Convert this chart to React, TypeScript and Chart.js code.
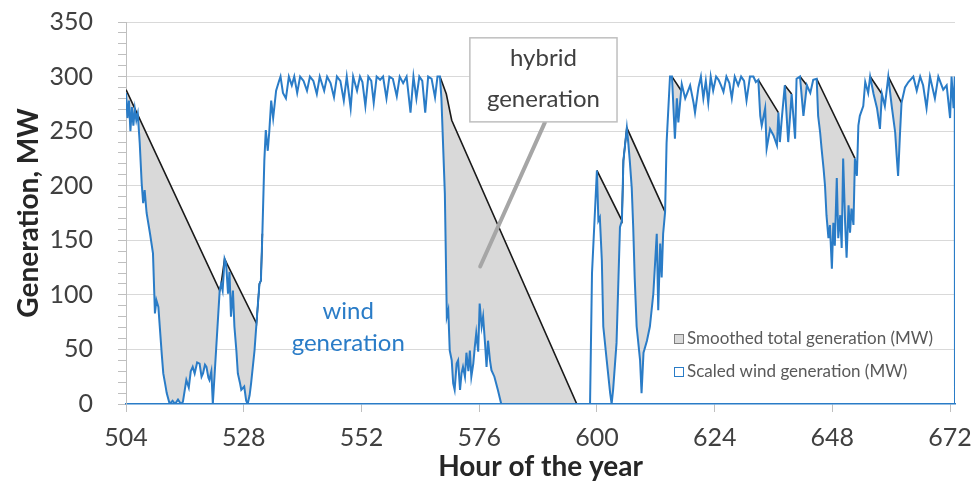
import React, { useEffect, useRef } from "react";
import { Chart, registerables } from "chart.js";

Chart.register(...registerables);

// ---- DATA ----
const xTickHours = [504, 528, 552, 576, 600, 624, 648, 672];

const windHours = [
  504.0, 504.3, 504.6, 504.9, 505.2, 505.5, 505.8, 506.1, 506.4, 506.8, 507.2, 507.5, 507.8, 508.2, 508.9, 509.5,
  509.9, 510.2, 510.6, 510.9, 511.3, 511.6, 512.0, 512.3, 512.9, 513.5, 514.0, 514.6, 515.2, 515.6, 516.3, 516.8,
  517.2, 517.6, 518.0, 518.5, 519.0, 519.4, 519.7, 520.1, 520.4, 520.8, 521.0, 521.4, 521.7, 523.1, 523.4, 523.7,
  524.1, 524.4, 524.8, 525.1, 525.4, 525.8, 526.1, 526.5, 526.8, 527.2, 527.5, 528.1, 528.5, 528.8, 529.2, 529.5,
  530.2, 530.6, 531.2, 531.5, 531.8, 532.2, 532.5, 532.9, 533.2, 533.6, 534.0, 534.6, 535.2, 535.5, 536.0, 536.6,
  537.2, 537.8, 538.3, 538.9, 539.5, 540.2, 540.9, 541.5, 542.2, 542.9, 543.5, 544.4, 545.0, 545.7, 546.4, 547.0,
  547.7, 548.4, 549.0, 549.8, 550.3, 551.1, 551.7, 552.2, 552.8, 553.4, 554.0, 554.5, 555.1, 555.8, 556.4, 557.1,
  557.7, 558.4, 559.2, 559.8, 560.5, 561.2, 562.0, 562.6, 563.2, 563.8, 564.4, 565.0, 565.6, 566.3, 567.0, 567.5,
  568.0, 568.3, 569.0, 569.4, 569.7, 570.0, 570.4, 570.7, 571.0, 571.4, 571.7, 572.1, 572.4, 572.7, 573.1, 573.4,
  573.8, 574.1, 574.4, 574.8, 575.1, 575.4, 575.8, 576.1, 576.5, 576.8, 577.2, 577.5, 577.8, 578.2, 578.5, 579.1,
  579.8, 580.5, 598.6, 599.0, 600.0, 600.3, 600.6, 601.0, 601.3, 602.0, 602.7, 603.0, 603.3, 604.0, 604.4, 604.7,
  605.1, 605.4, 606.1, 606.4, 606.7, 607.1, 607.4, 607.7, 608.1, 608.8, 609.1, 609.5, 610.2, 610.8, 611.5, 612.2,
  612.5, 612.9, 613.2, 613.5, 613.9, 614.2, 614.9, 615.3, 615.9, 616.3, 616.6, 617.3, 618.0, 619.0, 619.7, 620.0,
  620.7, 621.2, 621.7, 622.2, 622.7, 623.2, 623.7, 624.3, 624.8, 625.3, 625.8, 626.4, 627.0, 627.5, 628.1, 628.8,
  629.4, 630.0, 630.5, 631.2, 631.9, 632.4, 632.9, 633.3, 633.6, 634.3, 634.6, 635.3, 636.0, 636.7, 637.0, 637.3,
  637.7, 638.3, 639.0, 639.7, 640.4, 640.7, 641.4, 642.1, 642.8, 643.5, 644.1, 644.8, 645.1, 645.5, 645.8, 646.2,
  646.5, 646.8, 647.2, 647.5, 647.9, 648.2, 648.5, 648.9, 649.2, 649.6, 649.9, 650.2, 650.6, 650.9, 651.3, 651.6,
  651.9, 652.3, 652.6, 653.0, 653.3, 653.6, 654.3, 654.7, 655.3, 655.7, 656.4, 657.1, 657.7, 658.1, 658.7, 659.4,
  660.1, 660.8, 661.1, 661.4, 661.8, 662.1, 662.8, 663.5, 664.5, 665.2, 665.9, 666.5, 667.2, 667.9, 668.9, 669.6,
  670.6, 671.3, 672.0, 672.3, 672.7, 672.95, 673.0,
];

const windMW = [
  285, 262, 278, 250, 272, 255, 270, 260, 266, 239, 202, 184, 196, 175, 156, 138,
  83, 95, 89, 70, 45, 28, 18, 10, 0, 3, 0, 4, 0, 2, 22, 15,
  30, 34, 28, 38, 37, 25, 28, 36, 34, 24, 22, 30, 0, 104, 110, 104,
  133, 129, 101, 121, 80, 104, 71, 49, 28, 20, 13, 16, 3, 0, 8, 19,
  49, 74, 110, 113, 156, 223, 251, 232, 249, 278, 262, 287, 296, 300, 285, 280,
  300, 292, 300, 285, 300, 296, 287, 300, 296, 284, 300, 287, 300, 294, 281, 300,
  296, 278, 300, 271, 300, 287, 300, 295, 273, 300, 296, 276, 300, 297, 300, 280,
  300, 298, 282, 300, 294, 300, 267, 300, 280, 300, 296, 267, 300, 298, 281, 300,
  300, 280, 193, 80, 86, 49, 40, 19, 13, 37, 40, 13, 28, 34, 25, 47,
  30, 49, 25, 37, 52, 65, 48, 92, 71, 80, 55, 34, 58, 40, 31, 25,
  13, 0, 0, 120, 214, 168, 171, 132, 71, 40, 10, 0, 13, 56, 116, 162,
  168, 223, 253, 239, 223, 198, 162, 116, 71, 40, 10, 47, 58, 71, 101, 156,
  86, 147, 116, 156, 176, 239, 300, 300, 243, 280, 258, 293, 280, 292, 276, 267,
  290, 300, 280, 296, 276, 300, 287, 300, 297, 292, 286, 300, 294, 280, 300, 292,
  300, 296, 278, 300, 300, 295, 297, 264, 255, 271, 234, 252, 246, 237, 267, 240,
  262, 292, 240, 284, 243, 298, 300, 264, 292, 285, 297, 298, 264, 249, 234, 216,
  200, 173, 152, 164, 124, 166, 145, 207, 152, 173, 143, 225, 166, 134, 182, 157,
  179, 164, 225, 209, 255, 264, 273, 295, 285, 300, 284, 271, 252, 284, 273, 300,
  273, 249, 228, 209, 249, 276, 290, 295, 300, 287, 300, 292, 271, 300, 280, 300,
  288, 292, 262, 300, 271, 300, 0,
];

// Smoothed total generation: null separates the ramp segments
const smoothHours = [
  504.0, 523.1, 523.4, 524.1, 530.6, 531.2, 531.5, 531.8, 531.9,
  568.0, 569.3, 570.4, 595.9, 596.0,
  600.0, 605.1, 605.4, 606.1, 613.9, 614.0,
  615.3, 617.2, 617.3,
  632.9, 637.0, 637.1,
  638.3, 639.7, 639.8,
  641.4, 642.8, 642.9,
  644.8, 652.6, 652.7,
  655.7, 658.1, 658.2,
  659.4, 662.1,
];
const smoothMW = [
  288, 104, 110, 133, 74, 110, 113, 156, null,
  300, 284, 260, 0, null,
  214, 168, 223, 253, 176, null,
  300, 287, null,
  297, 267, null,
  292, 284, null,
  300, 292, null,
  298, 225, null,
  300, 284, null,
  300, 276,
];

const seriesLabels = ["Smoothed total generation (MW)", "Scaled wind generation (MW)"];

const FONT = 'Lato, "Open Sans", "DejaVu Sans", sans-serif';
const WIND_BLUE = "#2a7cc7";
const FILL_GRAY = "#d9d9d9";

const overlayPlugin = {
  id: "overlay",
  afterDatasetsDraw(chart: any) {
    const { ctx, chartArea } = chart;
    const x = chart.scales.x;
    const y = chart.scales.y;
    ctx.save();

    // right edge line (end of wind series frame)
    // "hybrid generation" callout pointer
    ctx.strokeStyle = "#a6a6a6";
    ctx.lineWidth = 4;
    ctx.lineCap = "round";
    ctx.beginPath();
    ctx.moveTo(x.getPixelForValue(589.4), y.getPixelForValue(258));
    ctx.lineTo(x.getPixelForValue(576.2), y.getPixelForValue(126));
    ctx.stroke();

    // callout box
    const bx0 = x.getPixelForValue(574.1);
    const bx1 = x.getPixelForValue(604.1);
    const by0 = y.getPixelForValue(335.5);
    const by1 = y.getPixelForValue(258.5);
    ctx.fillStyle = "#ffffff";
    ctx.fillRect(bx0, by0, bx1 - bx0, by1 - by0);
    ctx.strokeStyle = "#bfbfbf";
    ctx.lineWidth = 1.5;
    ctx.strokeRect(bx0, by0, bx1 - bx0, by1 - by0);

    ctx.fillStyle = "#404040";
    ctx.font = `24px ${FONT}`;
    ctx.textAlign = "center";
    ctx.textBaseline = "middle";
    const cx = (bx0 + bx1) / 2;
    ctx.fillText("hybrid", cx, by0 + 20);
    ctx.fillText("generation", cx, by0 + 61);

    // wind generation label
    ctx.fillStyle = WIND_BLUE;
    const wx = x.getPixelForValue(549.3);
    const wy = y.getPixelForValue(85);
    ctx.fillText("wind", wx, wy);
    ctx.fillText("generation", wx, wy + 32);

    // legend
    const lx = chartArea.right - 281;
    const rows = [chartArea.bottom - 65, chartArea.bottom - 32];
    ctx.font = `17px ${FONT}`;
    ctx.textAlign = "left";
    rows.forEach((ry, i) => {
      ctx.fillStyle = i === 0 ? FILL_GRAY : "#ffffff";
      ctx.strokeStyle = i === 0 ? "#7f7f7f" : WIND_BLUE;
      ctx.lineWidth = 1;
      ctx.fillRect(lx + 0.5, ry - 4.5, 9, 9);
      ctx.strokeRect(lx + 0.5, ry - 4.5, 9, 9);
      ctx.fillStyle = "#595959";
      ctx.fillText(seriesLabels[i], lx + 13, ry);
    });
    ctx.restore();
  },
};

export default function App() {
  const canvasRef = useRef<HTMLCanvasElement | null>(null);

  useEffect(() => {
    if (!canvasRef.current) return;
    const windData = windHours.map((h, i) => ({ x: h, y: windMW[i] }));
    const smoothData = smoothHours.map((h, i) => ({ x: h, y: smoothMW[i] }));

    const chart = new Chart(canvasRef.current, {
      type: "line",
      data: {
        datasets: [
          {
            label: seriesLabels[0],
            data: smoothData as any,
            borderColor: "#1a1a1a",
            borderWidth: 1.6,
            pointRadius: 0,
            tension: 0,
            spanGaps: false,
            fill: { target: 1, above: FILL_GRAY, below: "rgba(0,0,0,0)" } as any,
            order: 1,
          },
          {
            label: seriesLabels[1],
            data: windData,
            borderColor: WIND_BLUE,
            borderWidth: 2,
            pointRadius: 0,
            tension: 0,
            fill: false,
            order: 0,
          },
        ],
      },
      options: {
        animation: false,
        responsive: true,
        maintainAspectRatio: false,
        layout: { padding: { top: 22, right: 19, bottom: 0, left: 0 } },
        plugins: {
          legend: { display: false },
          tooltip: { enabled: false },
          filler: { drawTime: "beforeDatasetsDraw" } as any,
        },
        scales: {
          x: {
            type: "linear",
            min: 504,
            max: 673,
            afterBuildTicks: (scale: any) => {
              scale.ticks = xTickHours.map((v) => ({ value: v }));
            },
            afterFit: (scale: any) => {
              scale.height = 86;
              scale.paddingLeft = 0;
              scale.paddingRight = 0;
            },
            grid: {
              drawOnChartArea: false,
              drawTicks: true,
              tickLength: 8,
              tickColor: "#bfbfbf",
            },
            border: { color: WIND_BLUE, width: 1.5 },
            ticks: {
              autoSkip: false,
              maxRotation: 0,
              padding: 11,
              color: "#404040",
              font: { family: FONT, size: 25 },
            },
            title: {
              display: true,
              text: "Hour of the year",
              color: "#262626",
              font: { family: FONT, size: 28, weight: "bold" },
              padding: { top: 12, bottom: 6 },
            },
          },
          y: {
            min: 0,
            max: 350,
            afterFit: (scale: any) => {
              scale.width = 126;
              scale.paddingTop = 0;
              scale.paddingBottom = 0;
            },
            ticks: {
              stepSize: 10,
              autoSkip: false,
              padding: 25,
              color: "#404040",
              font: { family: FONT, size: 25 },
              callback: (v: any) => (Number(v) % 50 === 0 ? String(v) : ""),
            },
            grid: {
              color: (c: any) =>
                c.tick && c.tick.value % 50 === 0 && c.tick.value !== 0 ? "#d9d9d9" : "rgba(0,0,0,0)",
              tickColor: "#bfbfbf",
              tickLength: 8,
              lineWidth: 1,
            },
            border: { color: "#bfbfbf", width: 1 },
            title: {
              display: true,
              text: "Generation, MW",
              color: "#262626",
              font: { family: FONT, size: 28, weight: "bold" },
              padding: { top: 12, bottom: 6 },
            },
          },
        },
      },
      plugins: [overlayPlugin],
    });
    return () => chart.destroy();
  }, []);

  return (
    <div style={{ position: "fixed", left: 0, top: 0, width: 974, height: 490, background: "#ffffff" }}>
      <canvas ref={canvasRef} />
    </div>
  );
}
